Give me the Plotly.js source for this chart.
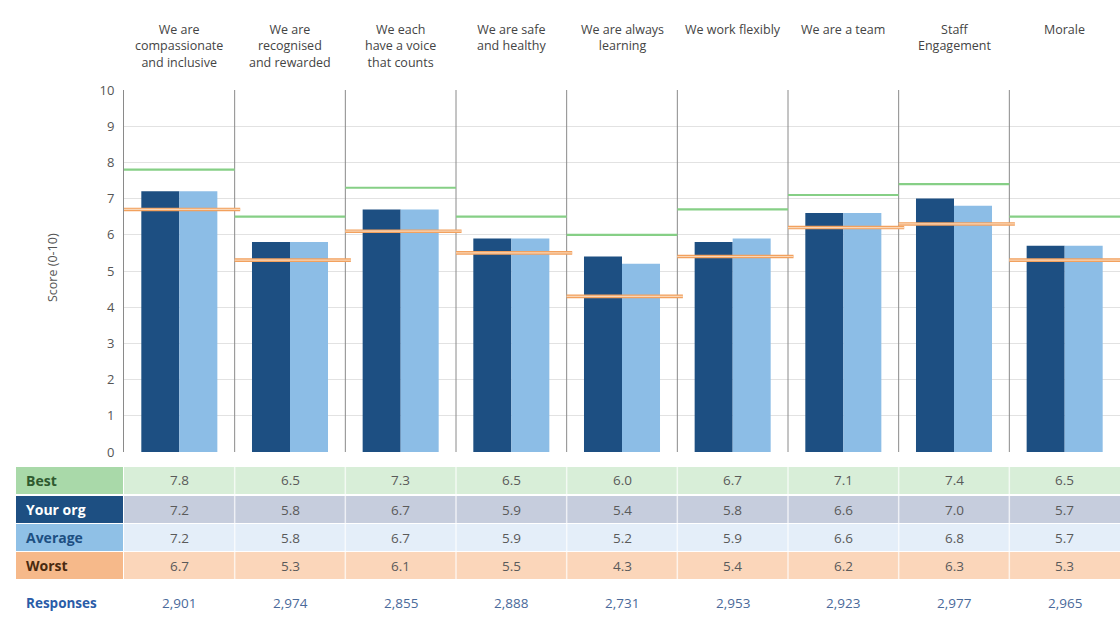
<!DOCTYPE html>
<html><head><meta charset="utf-8">
<script src="https://cdn.plot.ly/plotly-3.0.1.min.js"></script>
<style>body{margin:0;background:#fff}#chart{width:1120px;height:618px}</style>
</head><body><div id="chart"></div>
<script>
const categories = ["We are<br>compassionate<br>and inclusive","We are<br>recognised<br>and rewarded","We each<br>have a voice<br>that counts","We are safe<br>and healthy","We are always<br>learning","We work flexibly","We are a team","Staff<br>Engagement","Morale"];
const yourOrg = [7.2,5.8,6.7,5.9,5.4,5.8,6.6,7.0,5.7];
const average = [7.2,5.8,6.7,5.9,5.2,5.9,6.6,6.8,5.7];
const best    = [7.8,6.5,7.3,6.5,6.0,6.7,7.1,7.4,6.5];
const worst   = [6.7,5.3,6.1,5.5,4.3,5.4,6.2,6.3,5.3];
const responses = ["2,901","2,974","2,855","2,888","2,731","2,953","2,923","2,977","2,965"];
const rowLabels = ["Best","Your org","Average","Worst"];

const DARK = "#1d4f82", LIGHT = "#8cbde6";
const H = 362, W = 996, T = 90, L = 124;
const py = p => (T + H - p) / H;
const px = x => (x - L) / W;
const n = categories.length;

const traces = [
  {type:"bar", x:categories, y:yourOrg, marker:{color:DARK}, hoverinfo:"y", name:"Your org"},
  {type:"bar", x:categories, y:average, marker:{color:LIGHT}, hoverinfo:"y", name:"Average"}
];

const shapes = [];
const annotations = [];
// vertical dividers
for (let i = 1; i < n; i++) {
  shapes.push({type:"line", xref:"x", yref:"y", x0:i-0.5, x1:i-0.5, y0:0, y1:10, line:{color:"#8a8a8a", width:1}, layer:"above"});
}
// best / worst lines
for (let i = 0; i < n; i++) {
  shapes.push({type:"line", xref:"x", yref:"y", x0:i-0.5, x1:i+0.5, y0:best[i], y1:best[i], line:{color:"#86cf86", width:2.2}, layer:"above"});
  shapes.push({type:"line", xref:"x", yref:"y", x0:i-0.5, x1:i+0.55, y0:worst[i], y1:worst[i], line:{color:"#f2a15e", width:3.6}, layer:"above"});
  shapes.push({type:"line", xref:"x", yref:"y", x0:i-0.5, x1:i+0.55, y0:worst[i], y1:worst[i], line:{color:"#f9d6b6", width:1.2}, layer:"above"});
}
// table
const rowTops = [467, 496, 524, 552];
const rowH = 27;
const labelBg = ["#a9d9a9", DARK, "#8fc0e6", "#f6b98a"];
const labelFg = ["#2f5a2f", "#ffffff", "#1d4f82", "#4a2a10"];
const cellBg = ["#d8eed8", "#c6cddd", "#e4eef9", "#fbd6ba"];
const rowData = [best, yourOrg, average, worst];
rowTops.forEach((top, r) => {
  const y0 = py(top + rowH), y1 = py(top);
  shapes.push({type:"rect", xref:"paper", yref:"paper", x0:px(16), x1:px(123), y0:y0, y1:y1, fillcolor:labelBg[r], line:{width:0}});
  shapes.push({type:"rect", xref:"x", yref:"paper", x0:-0.5, x1:n-0.5, y0:y0, y1:y1, fillcolor:cellBg[r], line:{width:0}});
  annotations.push({xref:"paper", yref:"paper", x:px(24), y:py(top + rowH/2), xanchor:"left", yanchor:"middle", text:"<b>"+rowLabels[r]+"</b>", showarrow:false, font:{size:14, color:labelFg[r], family:"Open Sans, sans-serif"}});
  for (let i = 0; i < n; i++) {
    annotations.push({xref:"x", yref:"paper", x:i, y:py(top + rowH/2), xanchor:"center", yanchor:"middle", text:rowData[r][i].toFixed(1), showarrow:false, font:{size:13.5, color:"#5a5a5a", family:"Open Sans, sans-serif"}});
  }
});
for (let i = 1; i < n; i++) {
  shapes.push({type:"line", xref:"x", yref:"paper", x0:i-0.5, x1:i-0.5, y0:py(580), y1:py(467), line:{color:"rgba(255,255,255,0.7)", width:1.5}});
}
// responses
annotations.push({xref:"paper", yref:"paper", x:px(24), y:py(603), xanchor:"left", yanchor:"middle", text:"<b>Responses</b>", showarrow:false, font:{size:13.5, color:"#2a5ca8", family:"Open Sans, sans-serif"}});
for (let i = 0; i < n; i++) {
  annotations.push({xref:"x", yref:"paper", x:i, y:py(603), xanchor:"center", yanchor:"middle", text:responses[i], showarrow:false, font:{size:13.5, color:"#4a6a9a", family:"Open Sans, sans-serif"}});
  annotations.push({xref:"x", yref:"paper", x:i, y:py(19), xanchor:"center", yanchor:"top", text:categories[i], showarrow:false, font:{size:12.5, color:"#444", family:"Open Sans, sans-serif"}});
}
// y title
annotations.push({xref:"paper", yref:"paper", x:px(52), y:py(268), xanchor:"center", yanchor:"middle", text:"Score (0-10)", textangle:-90, showarrow:false, font:{size:12.5, color:"#555", family:"Open Sans, sans-serif"}});

const layout = {
  width:1120, height:618,
  margin:{l:L, r:0, t:T, b:618-T-H},
  paper_bgcolor:"#fff", plot_bgcolor:"#fff",
  barmode:"group", bargap:0.313, bargroupgap:0,
  showlegend:false,
  font:{family:"Open Sans, sans-serif", color:"#555"},
  xaxis:{type:"category", range:[-0.5, n-0.5], showticklabels:false, showgrid:false, zeroline:false, ticks:"", fixedrange:true},
  yaxis:{range:[0,10], dtick:1, showgrid:true, gridcolor:"#e2e2e2", gridwidth:1, zeroline:false, showline:true, linecolor:"#8a8a8a", linewidth:1, ticks:"", ticklabelstandoff:6, tickfont:{size:13, color:"#555"}, fixedrange:true},
  shapes:shapes, annotations:annotations
};
Plotly.newPlot("chart", traces, layout, {displayModeBar:false, staticPlot:true});
</script></body></html>
